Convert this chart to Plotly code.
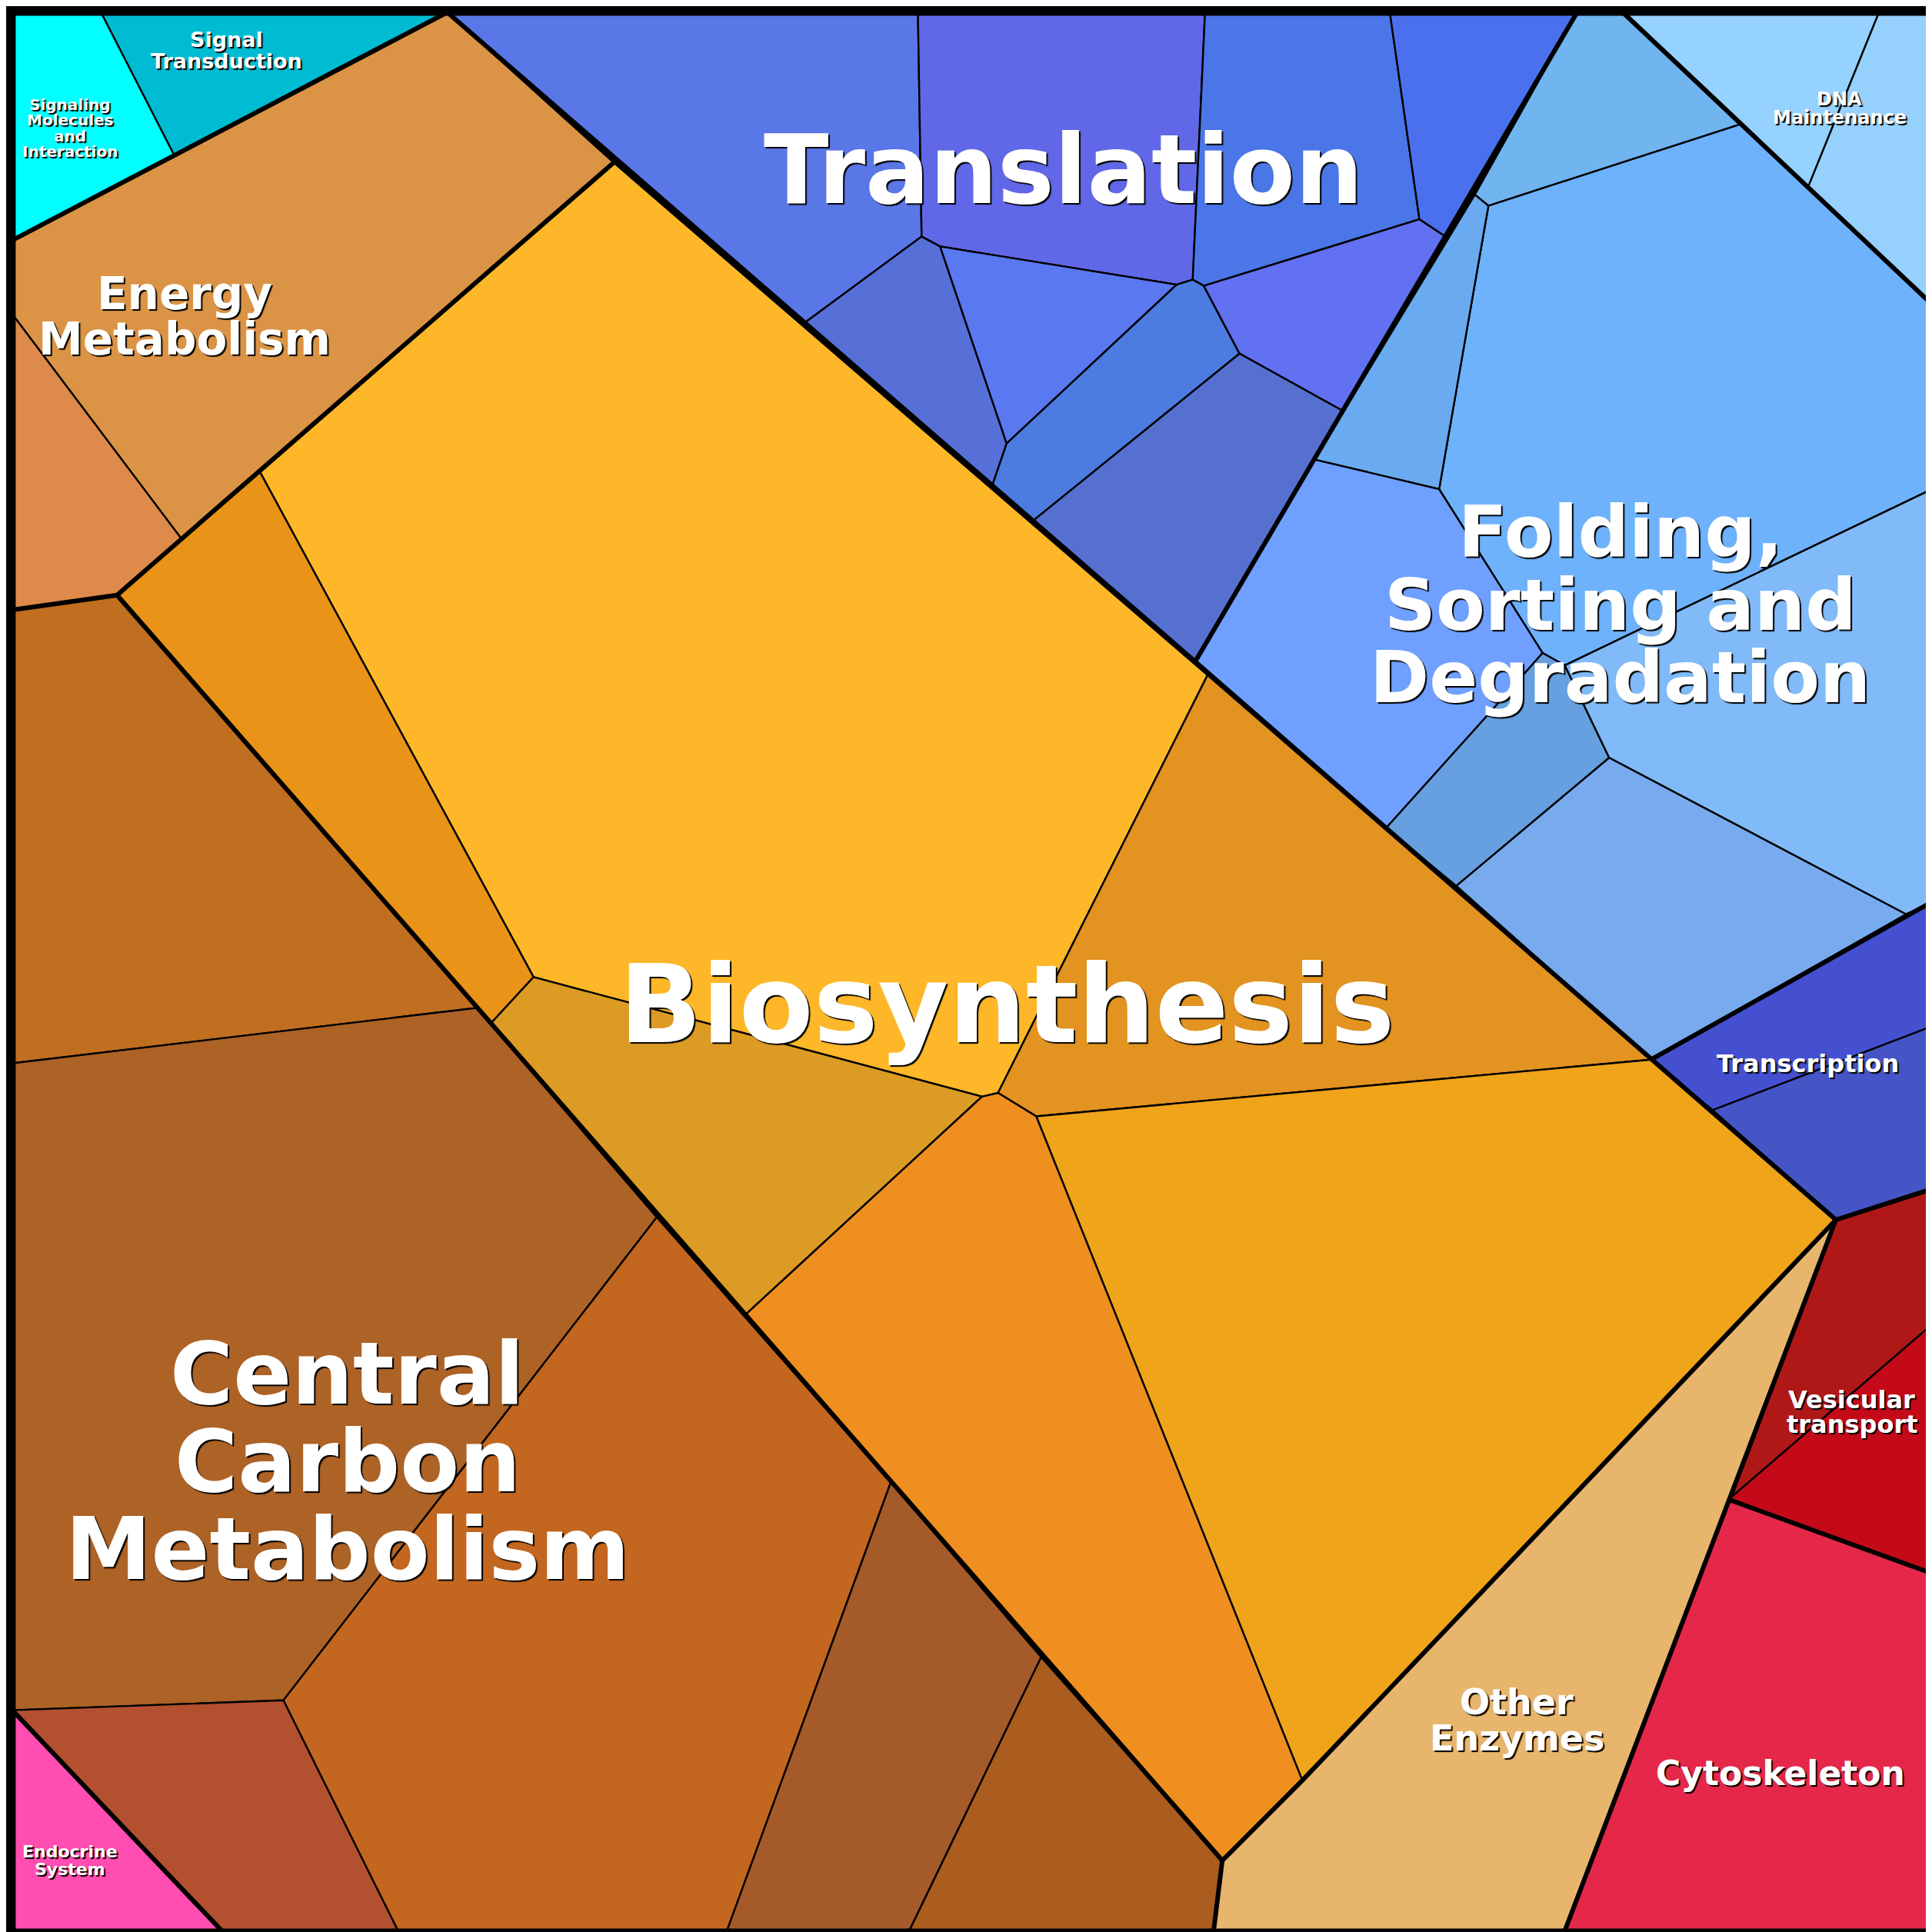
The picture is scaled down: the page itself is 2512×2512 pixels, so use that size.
import plotly.graph_objects as go

# --- Data: Voronoi treemap cells (vertex positions, 0-1568 units) ---
cell_names = [
    "Signaling Molecules", "Signal Transduction", "Energy A", "Energy B",
    "Bio 1", "Bio 2", "Bio 3", "Bio 4", "Bio 5", "Bio 6", "Other Enzymes",
    "CC 1", "CC 2", "CC 3", "CC 4", "CC 5", "CC 6", "Endocrine System",
    "Tl 1", "Tl 2", "Tl 3", "Tl 4", "Tl 5", "Tl 6", "Tl 7", "Tl 8", "Tl 9",
    "Fold 1", "DNA 1", "DNA 2", "Fold 3", "Fold 4", "Fold 5", "Fold 6", "Fold 7", "Fold 8",
    "Tx 1", "Tx 2", "Ves 1", "Ves 2", "Cytoskeleton",
]
cell_colors = [
    "#00FFFF", "#00BCD2", "#DB9445", "#DD8A4A",
    "#FDB728", "#E99318", "#DC9B24", "#E29320", "#EFA41A", "#EF8F20", "#E7B66C",
    "#C06E20", "#AD6226", "#C3661F", "#B25030", "#A55A29", "#AA5D1E", "#FF4DB1",
    "#5A77E8", "#6068E8", "#4A76E8", "#4A70EE", "#5670D8", "#5A78F0", "#4C7CE0", "#6270F2", "#5670D0",
    "#70B4F0", "#96D2FF", "#96D0FC", "#6EB2FC", "#6AAAF0", "#6FA0FF", "#66A0E0", "#80BAF8", "#78AAEE",
    "#4450D0", "#4555C6", "#B01818", "#C40A18", "#E5284A",
]
cell_x = [
    [5, 77, 137, 5], [77, 358, 137], [5, 137, 358, 493, 142, 5], [5, 142, 90, 5],
    [493, 975, 805, 792, 428, 206], [90, 206, 428, 393], [428, 792, 600, 393],
    [975, 1335, 836, 805], [836, 1335, 1485, 1052], [792, 805, 836, 1052, 987, 600],
    [1485, 1265, 980, 987, 1052],
    [5, 90, 382, 5], [5, 382, 528, 225, 5], [528, 718, 585, 318, 225], [5, 225, 318, 175],
    [718, 840, 733, 585], [840, 987, 980, 733], [5, 175, 5],
    [358, 740, 743, 648], [740, 973, 963, 950, 758, 743], [973, 1123, 1147, 972, 963],
    [1123, 1275, 1168, 1147], [648, 743, 758, 812, 800], [758, 950, 812],
    [812, 950, 963, 972, 1001, 833, 800], [972, 1147, 1168, 1084, 1001], [833, 1001, 1084, 965],
    [1275, 1312, 1407, 1203, 1192], [1312, 1520, 1462, 1407], [1520, 1563, 1563, 1462],
    [1203, 1407, 1563, 1563, 1265, 1247, 1163], [1192, 1203, 1163, 1062],
    [1062, 1163, 1247, 1200, 1120, 965], [1247, 1265, 1301, 1177, 1120, 1200],
    [1265, 1563, 1563, 1542, 1301], [1301, 1542, 1335, 1177],
    [1335, 1542, 1563, 1563, 1385], [1385, 1563, 1563, 1485],
    [1485, 1563, 1563, 1398], [1398, 1563, 1563], [1398, 1563, 1563, 1265],
]
cell_y = [
    [5, 5, 122, 190], [5, 5, 122], [190, 122, 5, 127, 432, 250], [250, 432, 478, 490],
    [127, 543, 882, 885, 788, 378], [478, 378, 788, 826], [788, 885, 1062, 826],
    [543, 855, 901, 882], [901, 855, 985, 1440], [885, 882, 901, 1440, 1505, 1062],
    [985, 1562, 1562, 1505, 1440],
    [490, 478, 813, 858], [858, 813, 983, 1375, 1383], [983, 1198, 1562, 1562, 1375],
    [1383, 1375, 1562, 1562], [1198, 1340, 1562, 1562], [1340, 1505, 1562, 1562], [1383, 1562, 1562],
    [5, 5, 187, 257], [5, 5, 222, 226, 195, 187], [5, 5, 173, 227, 222],
    [5, 5, 187, 173], [257, 187, 195, 355, 390], [195, 226, 355],
    [355, 226, 222, 227, 282, 418, 390], [227, 173, 187, 328, 282], [418, 282, 328, 532],
    [5, 5, 96, 162, 153], [5, 5, 148, 96], [5, 5, 242, 148],
    [162, 96, 242, 392, 535, 525, 392], [153, 162, 392, 368],
    [368, 392, 525, 578, 667, 532], [525, 535, 610, 714, 667, 578],
    [535, 392, 727, 737, 610], [610, 737, 855, 714],
    [855, 737, 727, 828, 896], [896, 828, 960, 985],
    [985, 960, 1070, 1212], [1212, 1070, 1272], [1212, 1272, 1562, 1562],
]

# top-level group boundaries
border_x = [
    [5, 358], [358, 965, 1485], [1275, 965], [1312, 1563], [1335, 1563], [1485, 1563],
    [1485, 1265], [1398, 1563], [1485, 1052, 987, 980], [90, 987], [493, 90, 5], [5, 175],
]
border_y = [
    [190, 5], [5, 532, 985], [5, 532], [5, 242], [855, 727], [985, 960],
    [985, 1562], [1212, 1272], [985, 1440, 1505, 1562], [478, 1505], [127, 478, 490], [1383, 1562],
]

label_text = [
    "Translation", "Biosynthesis", "Central|Carbon|Metabolism",
    "Folding,|Sorting and|Degradation", "Energy|Metabolism", "Other|Enzymes",
    "Cytoskeleton", "Transcription", "Vesicular|transport", "Signal|Transduction",
    "DNA|Maintenance", "Signaling|Molecules|and|Interaction", "Endocrine|System",
]
label_x = [858, 812, 277, 1310, 145, 1226, 1440, 1462, 1498, 179, 1488, 52, 52]
label_y = [133, 810, 1181, 486, 252, 1391, 1434, 858, 1141, 36, 83, 99, 1505]
label_size = [124, 141, 112, 93, 58, 46, 44, 32, 32, 27, 24, 20, 22]

# --- Plot ---
fig = go.Figure()

for name, xs, ys, col in zip(cell_names, cell_x, cell_y, cell_colors):
    fig.add_trace(
        go.Scatter(
            x=xs + [xs[0]], y=ys + [ys[0]],
            mode="lines", fill="toself", fillcolor=col,
            line=dict(color="black", width=2.4),
            name=name, hoverinfo="name",
        )
    )

for bx, by in zip(border_x, border_y):
    fig.add_trace(
        go.Scatter(x=bx, y=by, mode="lines", line=dict(color="black", width=6), hoverinfo="skip")
    )

# outer frame
fig.add_trace(
    go.Scatter(x=[4, 1564, 1564, 4, 4], y=[4, 4, 1564, 1564, 4], mode="lines",
               line=dict(color="black", width=12), hoverinfo="skip")
)

# labels: one annotation per line so line spacing stays tight
scale = 1568 / 2512
for t, x, y, s in zip(label_text, label_x, label_y, label_size):
    lines = t.split("|")
    step = s * scale * 1.02
    y0 = y - step * (len(lines) - 1) / 2
    for i, ln in enumerate(lines):
        fig.add_annotation(
            x=x, y=y0 + i * step, text="<b>" + ln + "</b>", showarrow=False,
            font=dict(family="DejaVu Sans", size=s, color="white", shadow="2px 2px 1px black"),
            yanchor="middle", xanchor="center",
        )

fig.update_layout(
    width=2512, height=2512, showlegend=False,
    margin=dict(l=0, r=0, t=0, b=0),
    plot_bgcolor="black", paper_bgcolor="black",
    xaxis=dict(range=[0, 1568], visible=False, fixedrange=True),
    yaxis=dict(range=[1568, 0], visible=False, fixedrange=True),
)

fig.write_html("out.html")
